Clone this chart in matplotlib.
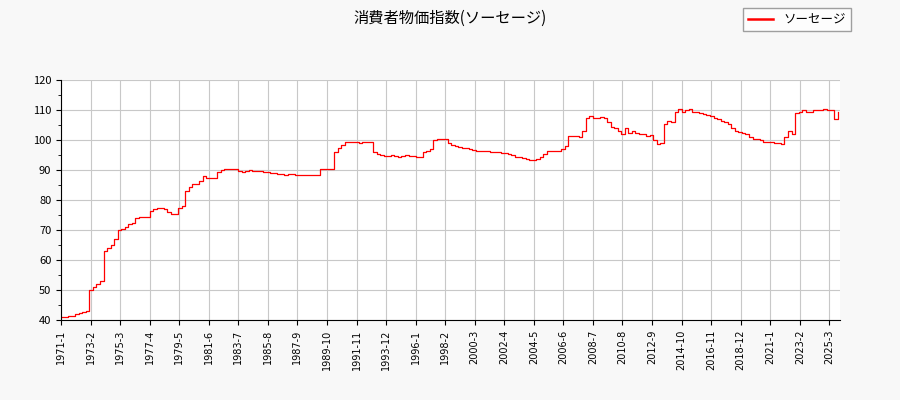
import matplotlib
matplotlib.use("Agg")
import matplotlib.pyplot as plt
from matplotlib.lines import Line2D

plt.rcParams['font.family'] = ['Noto Sans CJK JP', 'DejaVu Sans']

series_name = "ソーセージ"
title = "消費者物価指数(ソーセージ)"
start_year = 1971
# quarterly values (Jan, Apr, Jul, Oct) 1971..2025
values = [
 41,41,41.3,41.5, 42,42.3,42.7,43, 50,51,52,53, 63,64,65,67,
 70,70.5,71,72, 72.5,74,74.5,74.5, 74.5,76.5,77,77.5, 77.5,77,76,75.5,
 75.5,77.5,78,83, 84.5,85.5,85.5,86.5, 88,87.5,87.5,87.5, 89.5,90,90.3,90.3,
 90.3,90.3,89.8,89.5, 89.8,90,89.7,89.7, 89.7,89.5,89.3,89, 89,88.8,88.8,88.5,
 88.8,88.8,88.5,88.5, 88.5,88.5,88.3,88.3, 88.3,90.2,90.2,90.2, 90.3,96,97.5,98.5,
 99.2,99.3,99.2,99.2, 99,99.3,99.5,99.2, 96,95.5,95,94.8, 94.8,95,94.7,94.5,
 94.8,95,94.8,94.7, 94.5,94.3,96,96.5, 97,100,100.3,100.3, 100.5,99,98.5,98,
 97.7,97.5,97.3,97, 96.8,96.5,96.5,96.3, 96.2,96,96,96, 95.8,95.8,95.5,95,
 94.5,94.2,94,93.8, 93.5,93.3,93.8,94.2, 95.5,96.3,96.5,96.5, 96.5,97,98,101.5,
 101.5,101.5,101,103, 107.5,108,107.5,107.5, 107.8,107.5,106,104.5, 104,103,102,104,
 102.5,103,102.5,102, 102,101.5,101.8,100, 98.8,99,105.5,106.5, 106,109.5,110.5,109.5,
 110,110.2,109.5,109.3, 109,108.8,108.5,108, 107.5,107,106.5,106, 105.5,104,103,102.7,
 102.5,102,101,100.5, 100.5,100,99.5,99.5, 99.3,99,99,98.7, 101,103,102,109,
 109.5,110,109.5,109.5, 110,110,110,110.5, 110,110,107,109.5,
]
months = [i * 3 for i in range(len(values))]

tick_pos = list(range(0, 660, 25))
tick_labels = [f"{start_year + p // 12}-{p % 12 + 1}" for p in tick_pos]

fig = plt.figure(figsize=(9, 4), dpi=100, facecolor='#f8f8f8')
ax = fig.add_axes([61/900, 80/400, 779/900, 240/400])
ax.set_facecolor('white')
ax.plot(months, values, color='red', lw=0.9, drawstyle='steps-post')
ax.set_xlim(0, 659)
ax.set_ylim(40, 120)
ax.set_yticks(range(40, 121, 10))
ax.set_yticks(range(40, 121, 5), minor=True)
ax.set_xticks(tick_pos)
ax.set_xticklabels(tick_labels, rotation=90, fontsize=7, family=['DejaVu Sans'])
ax.tick_params(axis='y', labelsize=8)
ax.grid(True, color='#c8c8c8', lw=0.8)
for s in ['top', 'right']:
    ax.spines[s].set_visible(False)
fig.suptitle(title, y=0.975, fontsize=11)
handle = Line2D([], [], color='red', lw=1.8)
fig.legend([handle], [series_name], loc='upper right', bbox_to_anchor=(0.952, 0.995),
           fontsize=9, frameon=True, fancybox=False, edgecolor='#888888')
fig.savefig('out.png', dpi=100, facecolor=fig.get_facecolor())
